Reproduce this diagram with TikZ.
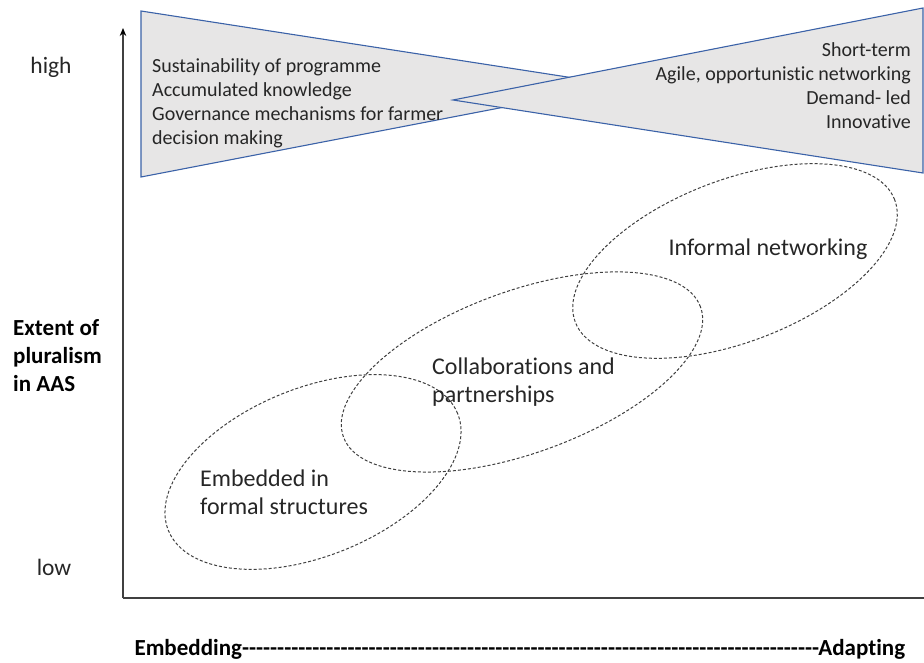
\documentclass[tikz,border=0pt]{standalone}
\usepackage{fontspec}
\setmainfont{Carlito}[Ligatures=NoCommon]
\newfontfamily\dashfont{Carlito}[Ligatures=NoCommon]
\usetikzlibrary{arrows.meta}
\usetikzlibrary{calc}

\definecolor{wedgefill}{HTML}{E7E6E6}
\definecolor{wedgeline}{HTML}{3B62A8}
\definecolor{inktext}{HTML}{262626}
\definecolor{axisline}{HTML}{404040}

\begin{document}
\begin{tikzpicture}[x=1pt, y=1pt,
		wedge/.style={fill=wedgefill, draw=wedgeline, line width=1.1pt, line join=miter},
		cluster/.style={draw=axisline, line width=1pt, dash pattern=on 3pt off 2pt},
		smalltext/.style={inner sep=0pt, text=inktext, font=\fontsize{20}{24}\selectfont},
		bigtext/.style={inner sep=0pt, text=inktext, font=\fontsize{24}{28}\selectfont},
		boldtext/.style={inner sep=0pt, text=black, font=\fontsize{23}{28}\selectfont\bfseries}]
		\useasboundingbox (0,0) rectangle (924,662);

		% axes
		\coordinate (o) at (123,64);
		\coordinate (ytop) at (123,634);
		\coordinate (xend) at (924,64);
		\draw[axisline, line width=1.6pt] (o) -- (xend);
		\draw[axisline, line width=1.6pt, -{Stealth[length=8pt, width=6.5pt, black]}] (o) -- (ytop);

		% the two wedges, right one on top
		\draw[wedge] (141,651) -- (141,485) -- (619,577) -- cycle;
		\draw[wedge] (923,654) -- (923,489) -- (453,562) -- cycle;

		\node[smalltext, anchor=west, align=left] (long) at (152,559) {Sustainability of programme\\Accumulated knowledge\\Governance mechanisms for farmer\\decision making};
		\node[smalltext, anchor=east, align=right] (short) at (911,576) {Short-term\\Agile, opportunistic networking\\Demand- led\\Innovative};

		% overlapping clusters
		\draw[cluster, rotate around={22:(313,190)}] (313,190) ellipse (156 and 84);
		\draw[cluster, rotate around={20:(522,290)}] (522,290) ellipse (190 and 81);
		\draw[cluster, rotate around={21:(735,401)}] (735,401) ellipse (171 and 81);

		\node[bigtext] (inf) at (768,413) {Informal networking};
		\node[bigtext, anchor=west, align=left] (col) at (432,280) {Collaborations and\\partnerships};
		\node[bigtext, anchor=west, align=left] (emb) at (200,170) {Embedded in\\formal structures};

		% axis labels
		\node[font=\fontsize{23.5}{28}\selectfont, text=inktext, inner sep=0pt] (high) at (51,595) {high};
		\node[font=\fontsize{23.5}{28}\selectfont, text=inktext, inner sep=0pt] (low) at (54,95) {low};
		\node[boldtext, anchor=west, align=left] (plur) at (13,306) {Extent of\\pluralism\\in AAS};
		\node[boldtext, font=\fontsize{23}{28}\selectfont\bfseries\dashfont] (emad) at (520,13) {Embedding----------------------------------------------------------------------------------Adapting};
	\end{tikzpicture}
\end{document}
